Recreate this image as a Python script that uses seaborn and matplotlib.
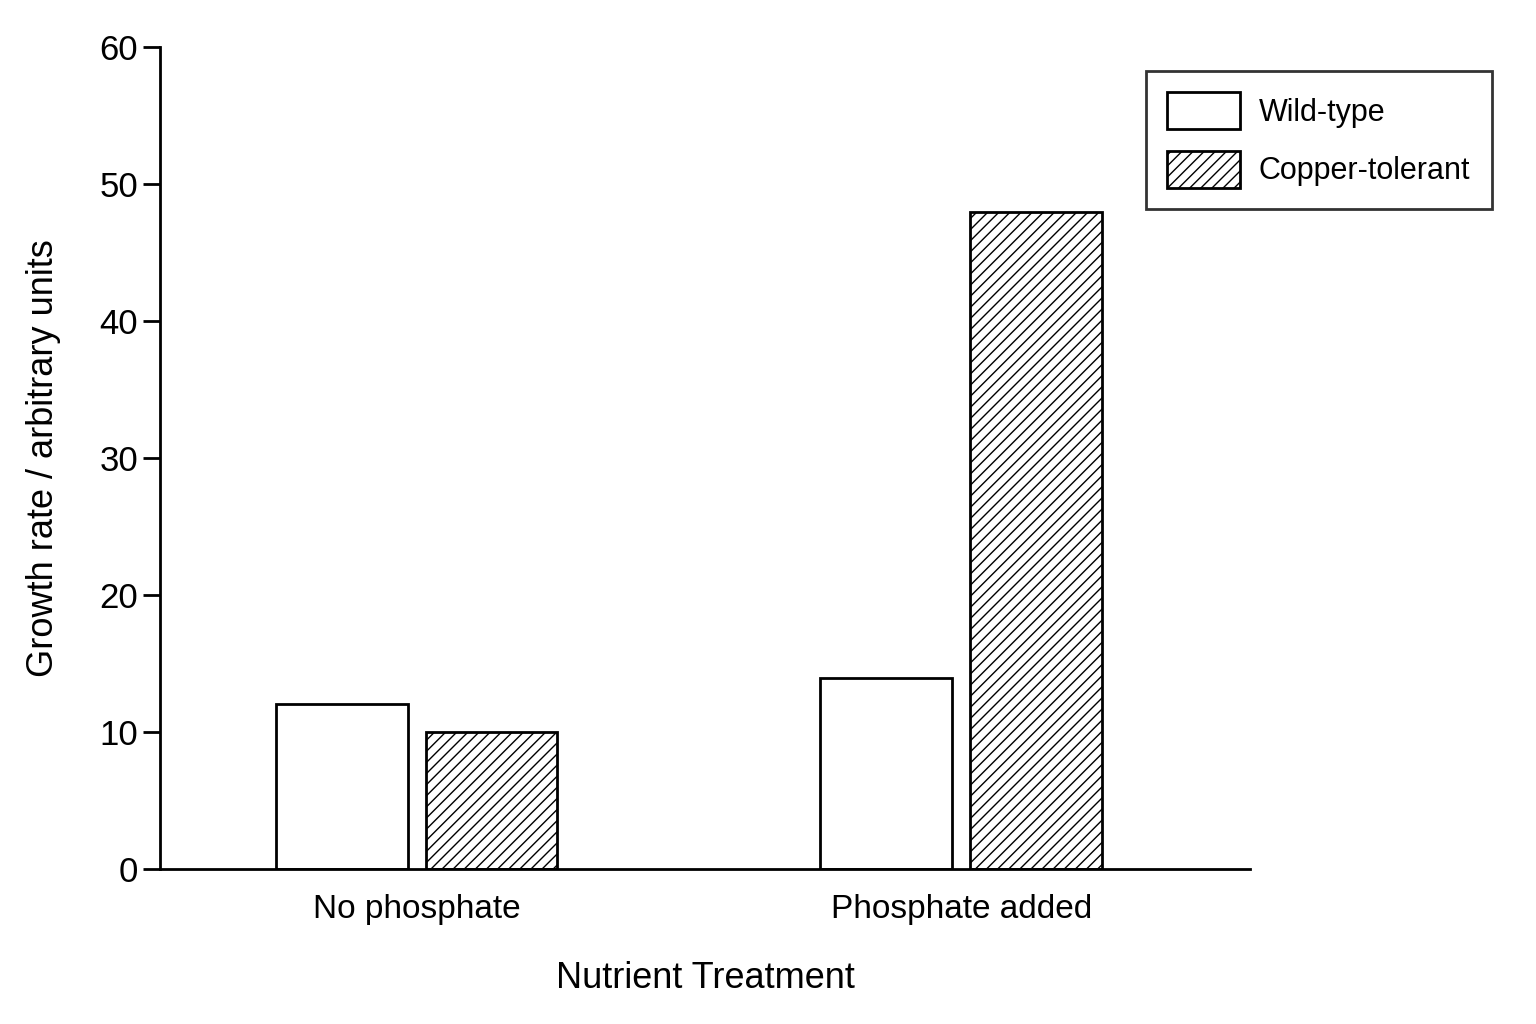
import pandas as pd
import seaborn as sns
import matplotlib.pyplot as plt
from matplotlib.patches import Patch

treatments = ['No phosphate', 'Phosphate added']
strains = ['Wild-type', 'Copper-tolerant']
wild_type = [12.1, 14.0]
copper_tolerant = [10.0, 48.0]

df = pd.DataFrame({
    'treatment': treatments * 2,
    'strain': [strains[0]] * 2 + [strains[1]] * 2,
    'growth': wild_type + copper_tolerant,
})

sns.set_style('ticks')
plt.rcParams['font.family'] = ['Liberation Sans', 'DejaVu Sans']
plt.rcParams['hatch.linewidth'] = 1.0
plt.rcParams['text.color'] = 'black'
plt.rcParams['axes.labelcolor'] = 'black'
plt.rcParams['xtick.color'] = 'black'
plt.rcParams['ytick.color'] = 'black'
plt.rcParams['axes.edgecolor'] = 'black'

fig = plt.figure(figsize=(15.36, 10.24), dpi=100)
ax = fig.add_axes([0.104, 0.151, 0.71, 0.803])

sns.barplot(data=df, x='treatment', y='growth', hue='strain',
            palette=['white', 'white'], width=0.55, gap=0.12,
            edgecolor='black', linewidth=2, legend=False, ax=ax)
for bar in ax.containers[1]:
    bar.set_hatch('///')

ax.set_xlim(-0.472, 1.531)
ax.set_ylim(0, 60)
ax.set_yticks(range(0, 61, 10))
ax.spines['right'].set_visible(False)
ax.spines['top'].set_visible(False)
ax.spines['left'].set_linewidth(2)
ax.spines['bottom'].set_linewidth(2)
ax.tick_params(axis='y', labelsize=25, width=2, length=12, direction='out')
ax.tick_params(axis='x', labelsize=24, length=0, pad=18)
ax.set_xlabel('Nutrient Treatment', fontsize=26, labelpad=26)
ax.set_ylabel('Growth rate / arbitrary units', fontsize=26, labelpad=28)

handles = [Patch(facecolor='white', edgecolor='black', linewidth=2),
           Patch(facecolor='white', edgecolor='black', linewidth=2, hatch='///')]
leg = fig.legend(handles, strains, loc='upper right', bbox_to_anchor=(0.981, 0.946),
                 fontsize=22, frameon=True, fancybox=False, edgecolor='black',
                 handlelength=2.4, handleheight=1.5, borderpad=0.7, labelspacing=0.7,
                 handletextpad=0.6)
leg.get_frame().set_linewidth(2)

fig.savefig('out.png', dpi=100)
